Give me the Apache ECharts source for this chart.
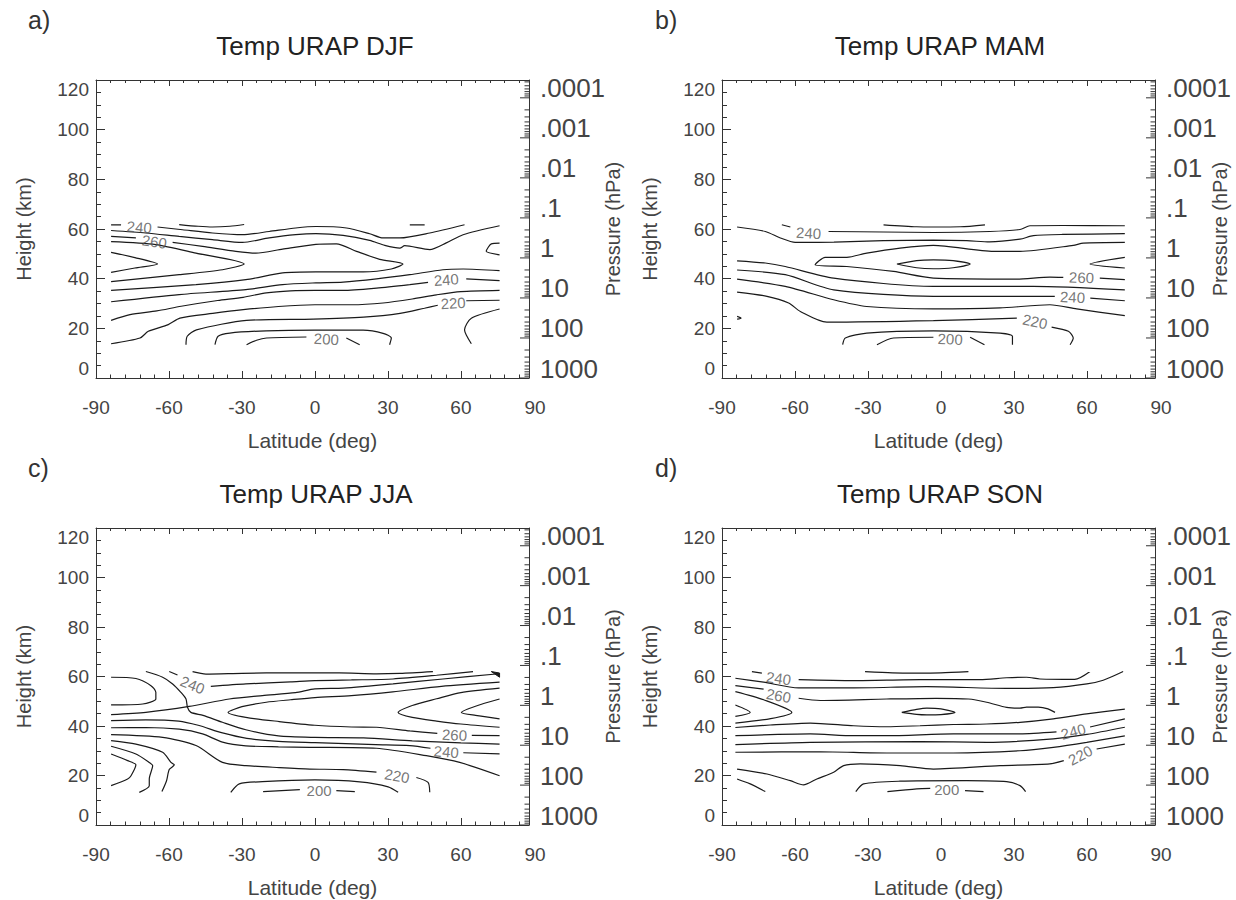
<!DOCTYPE html>
<html><head><meta charset="utf-8">
<script src="https://cdn.jsdelivr.net/npm/echarts@6/dist/echarts.min.js"></script>
<style>html,body{margin:0;padding:0;background:#fff}#chart{width:1236px;height:900px}</style>
</head><body><div id="chart"></div>
<script>
// ---------- axis definitions ----------
const LAT_MIN = -90, LAT_MAX = 88;
const HEIGHT_MIN = 0, HEIGHT_MAX = 120;
const SCALE_HEIGHT_KM = 7;
const P_SURFACE = 1000;
const P_TOP = P_SURFACE * Math.exp(-HEIGHT_MAX / SCALE_HEIGHT_KM);
const pressureTickValues = [1000, 100, 10, 1, 0.1, 0.01, 0.001, 0.0001];
const pressureTickLabels = ['1000', '100', '10', '1', '.1', '.01', '.001', '.0001'];
const panelTitles = ['Temp URAP DJF', 'Temp URAP MAM', 'Temp URAP JJA', 'Temp URAP SON'];
const panelLetters = ['a)', 'b)', 'c)', 'd)'];

// ---------- contour data: [latitude (deg), height (km)] ----------
const djfContours = [
  [[-83.8,61.7],[-79.7,61.7]],
  [[-64.7,60.8],[-54.4,59.7],[-42.1,58.4],[-29.8,57.7],[-18.8,59.0],[-7.9,60.4],[0.4,61.0],[13,60.4],[22.5,58.1],[28,56.4],[34.9,56.4],[47.2,58.4],[61.5,61.7]],
  [[-55.8,61.8],[-48,61.1],[-42.1,60.8],[-35,61.1],[-29.1,61.8]],
  [[39,61.7],[45.1,61.7]],
  [[-83.8,59.4],[-69.5,58.4],[-55.8,57.0],[-42.1,55.7],[-29.8,54.6],[-18.8,56.4],[-7.9,57.7],[0.4,58.1],[11.6,57.4],[22.5,55.4],[28.7,53.4],[34.9,52.3],[36.9,53.3],[47.2,51.7],[54,54.4],[60.9,57.7],[75.9,61.3]],
  [[-83.8,57.0],[-73.6,56.4]],
  [[-58.5,54.6],[-46.2,53.0],[-32.5,51.0],[-24.3,50.3],[-13.3,51.9],[0.4,53.8],[8.8,54.0],[17.1,51.0],[26.6,47.8],[36.2,45.9],[31.4,43.9],[19.8,42.7],[0.4,42.7],[-13.3,42.3],[-28.4,39.6],[-48.9,37.6],[-83.8,35.3]],
  [[-83.8,54.9],[-65.4,53.7],[-48.9,50.3],[-29.1,45.9],[-38,43.6],[-55.8,41.6],[-83.8,38.8]],
  [[-83.8,50.6],[-74,48.5],[-64.7,45.9],[-74,44.3],[-83.8,42.5]],
  [[75.9,54.3],[72.5,54.0],[70.4,51.0],[75.9,49.6]],
  [[-83.8,30.7],[-55.8,33.6],[-28.4,35.6],[-13.3,37.6],[0.4,38.3],[11.6,38.6],[25.3,39.9],[39,41.6],[52.6,43.6],[60.9,43.9],[75.9,43.2]],
  [[-83.8,23.2],[-76,25.5],[-65,27.0],[-55,28.9],[-40,31.2],[-29.5,32.5],[-20,34.3],[-10,35.1],[0,35.3],[11.6,35.3],[25.3,36.2],[39,37.6],[46.5,38.5]],
  [[62.2,39.9],[75.9,39.2]],
  [[-83.8,13.8],[-71.9,16.1],[-68.5,18.8],[-60.3,21.5],[-55.5,24.1],[-42,26],[-29.5,27.5],[-15,28.8],[0,29.5],[15,29.5],[28,30.2],[40,31.8],[50,33.5],[60,34.8],[75.9,35.3]],
  [[-53,13.4],[-52.5,16.8],[-48.7,19.4],[-28.1,23.2],[-0.7,23.7],[20,24.5],[35,26],[45,28.1],[50.5,29.3]],
  [[62.2,31.1],[75.9,31.3]],
  [[-41.1,13.4],[-39.8,16.8],[-35,18.1],[-20,19.0],[0,19.3],[19.8,19.3],[28,18.0],[31.4,16.1],[30.7,13.4]],
  [[-28.1,13.4],[-24,15.2],[-19.9,16.1],[-3.5,16.5]],
  [[12.9,16.1],[18.4,13.4]],
  [[75.9,27.8],[64.3,24.1],[61.5,19.4],[64.3,13.8]]
];
const djfLabels = [[-72.2,60.8,'240',-5],[-66,54.9,'260',-8],[54,39.6,'240',4],[56.8,30.2,'220',3],[4.7,15.7,'200',-3]];
const djfFilled = [];

const mamContours = [
  [[-83.8,60.8],[-72.2,59.0],[-66,56.4],[-59.9,54.6],[-44,54.7],[-23.6,55.3],[-3.1,55.5],[10.6,55.3],[20,54.8],[32.5,55.9],[38,57.3],[50,57.8],[75.6,58.1]],
  [[-65.4,61.7],[-61.9,60.8]],
  [[-46.2,59.0],[-23.6,58.8],[-3.1,58.6],[20,59.0],[32.5,59.8],[36.6,61.3],[50,61.4],[75.6,61.3]],
  [[-23.6,61.7],[-10,60.9],[-3.1,60.8],[8,60.9],[18.1,61.7]],
  [[75.6,54.6],[58.5,54.3],[54.4,53.4],[32.5,51.0],[21.6,51.0],[-3.1,53.4],[-16.8,52.3],[-30.5,50.3],[-38.7,48.6],[-47.6,48.6],[-51.7,45.6],[-38.7,44.9],[-19.5,42.9],[-3.1,40.2],[31.2,39.8],[44.8,40.6],[50.3,40.5]],
  [[65.3,40.2],[75.6,39.6]],
  [[-18.1,45.9],[-10,47.3],[-3.1,47.6],[5,47.3],[12,45.9],[5,44.4],[-3.1,44.0],[-10,44.4],[-18.1,45.9]],
  [[75.6,48.6],[61.3,45.9],[75.6,44.3]],
  [[-83.8,47.2],[-72.2,46.3],[-64,44.9],[-44.1,40.2],[-3.1,36.9],[38,36.9],[75.6,35.5]],
  [[-83.8,43.5],[-64,41.6],[-44.1,35.5],[-3.1,32.9],[46.8,32.9]],
  [[61.4,32.2],[75.6,31.1]],
  [[-83.8,39.8],[-64,36.9],[-44.1,31.5],[-30.5,28.8],[-3.1,27.8],[24.3,28.2],[44.8,29.5],[55.8,27.8],[75.6,25.1]],
  [[-83.8,34.6],[-71.5,32.9],[-62.6,30.2],[-57.8,26.8],[-46.9,22.5],[-3.1,23.1],[31.2,24.1]],
  [[45.5,20.5],[52.4,18.8],[54.4,16.1],[53.1,13.4]],
  [[-40.4,13.4],[-39.3,16.1],[-30.5,18.1],[-3.1,19.0],[24.3,18.1],[29.4,16.8],[29.4,13.4]],
  [[-26.3,13.4],[-19.5,16.1],[-3.1,16.4]],
  [[12,16.4],[17.9,13.4]],
  [[-83.8,24.8],[-82.2,24.1],[-83.8,23.7]]
];
const mamLabels = [[-54.4,58.4,'240',-3],[57.8,40.5,'260',-2],[54.1,32.6,'240',-3],[38.7,22.8,'220',-12],[3.8,15.7,'200',-2]];
const mamFilled = [];

const jjaContours = [
  [[-50.3,62],[-44.8,61.0],[-30,61.3],[-10,61.5],[10,61.5],[25.3,61.1],[35,61.3],[48.5,62]],
  [[-59.9,62],[-56.5,60.6]],
  [[-42.8,56.0],[-28.4,57.0],[-10,57.8],[0,58.3],[15,58.6],[32.1,59],[50,60.5],[65,62]],
  [[-83.8,59.7],[-73.6,59.2],[-67.4,56.3],[-65.4,53.6],[-65.4,50.9],[-70.8,48.9],[-83.8,48.5]],
  [[-69.5,62],[-62.6,59.7],[-58.5,57],[-55.1,53.6],[-53,50.9],[-52.4,47.6],[-51,45.5],[-46,44.3],[-38,41.5],[-28.4,38.5],[-15,36],[0,35.4],[20,35.2],[40,34],[60,33.2],[75.9,32.7]],
  [[-83.8,44.6],[-69.5,45.5],[-51.7,47.9],[-35.2,50.9],[-21.6,52.3],[-8,53.5],[0,55.0],[11.6,55.3],[32.1,57],[52.6,59],[74.5,61]],
  [[75.9,57.7],[52,56],[32,53.8],[15,52.3],[0,51.5],[-10,50.6],[-20,49.6],[-30,47.8],[-35.7,45.5],[-28.4,43.5],[-14.7,41.8],[0,40.3],[15,39.6],[25.3,39.5],[39,38],[50.3,37]],
  [[64.5,36.2],[75.9,36.1]],
  [[75.9,55.3],[60,53.5],[50,51],[40,48.3],[34.2,45.5],[40,43.5],[50,42],[60,40.8],[75.9,39.5]],
  [[75.9,50.9],[66,48],[60.2,45.5],[66,44.3],[75.9,42.9]],
  [[-83.8,42.2],[-69.5,42.5],[-56,42],[-48,40.3],[-38,37.2],[-28,35],[-15,33.8],[0,33.3],[25,32.5],[39,32.1],[47.5,31.0]],
  [[61,29.2],[75.9,28.7]],
  [[-83.8,39.3],[-69.5,39.4],[-55.8,38.7],[-46.2,36.8],[-38,33.5],[-28.4,32],[-15,31.6],[-2.1,31.4],[25.3,31.0],[45.8,28],[59.5,25.3],[75.9,19.9]],
  [[-83.8,36.5],[-62.6,35.4],[-48.9,32.1],[-38,25.3],[-28.4,24.0],[-14.7,23.2],[-2.1,22.6],[11.6,22.4],[25.3,21.4]],
  [[41.7,19.2],[46.5,17.2],[47.2,13.2]],
  [[-83.8,34.1],[-73.6,32.7],[-62.6,29.4],[-59.2,25.3],[-57.8,24.3],[-59.9,22.4],[-61,17.9],[-62.9,13.5]],
  [[-83.8,31.8],[-73.6,28.7],[-68.1,25.3],[-66.7,24],[-68.1,18.6],[-68.1,15.9],[-72.2,13.2]],
  [[-83.8,28.7],[-77,26],[-73.6,24.3],[-75.6,19.9],[-77,18.6],[-83.8,15.9]],
  [[-34.6,13.2],[-31.1,16.6],[-21.6,17.5],[0,18.2],[18.4,17.4],[30.1,15.4],[34.2,13.2]],
  [[-21.3,13.5],[-6.2,14.3]],
  [[8.8,13.9],[16.4,13.5]]
];
const jjaLabels = [[-50.3,56.6,'240',-22],[57.4,36.4,'260',-3],[54,29.6,'240',-5],[33.8,19.9,'220',-10],[1.7,13.9,'200',0]];
const jjaFilled = [[[72.5,62.0],[75.9,61.4],[75.9,59.7]]];

const sonContours = [
  [[-77.7,62],[-73.6,61.4]],
  [[-58.5,58.7],[-35.9,58.3],[-8.6,58.7],[16.1,58.7],[27,59.5],[35.2,59.7],[40.7,59.0],[55,58.8],[61.3,62]],
  [[-84.5,59.3],[-72.9,57.7],[-58.5,55.4],[-35.9,55.4],[-5.8,55.9],[27,55.2],[46.2,55.5],[60,57],[66.7,58.5],[74.9,62]],
  [[-31.2,62],[-20,61.5],[-10,61.4],[0,61.5],[11.3,62]],
  [[-84.5,56.3],[-72.9,54.9]],
  [[-58.5,51.2],[-49.6,50.3],[-22.3,50.9],[-2,51.2],[11.3,50.9],[18.8,49.6],[27,47.5],[32.5,47.2],[35.2,47.6],[40,47.6],[44,46.9],[46.9,45.5]],
  [[-84.5,53.9],[-72.9,50.6],[-61.3,45.5],[-70,43],[-84.5,41.2]],
  [[-84.5,48.5],[-78.4,45.5],[-84.5,43.9]],
  [[-16.1,45.5],[-10,46.7],[-5.8,47.2],[0,46.9],[5.8,45.5],[0,44.6],[-5.8,44.5],[-10,44.7],[-16.1,45.5]],
  [[-84.5,39.4],[-70.2,40.4],[-53.7,41.2],[-35.9,40.1],[-22.3,39.7],[-8.6,40.1],[5.1,40.6],[18.8,40.8],[32.5,41.5],[46.2,42.9],[59.9,44.9],[75.6,46.8]],
  [[-84.5,36.1],[-53.7,36.8],[-35.9,36.1],[-22.3,36.1],[5.1,36.8],[32.5,36.8],[47.5,37.6]],
  [[61.3,39.6],[75.6,42.9]],
  [[-84.5,32.5],[-53.7,33.4],[-8.6,33.7],[18.8,33.4],[46.2,34.8],[60,36.6],[75.6,39.5]],
  [[-84.5,29.4],[-49.6,29.6],[-22.3,29.1],[5.1,29.1],[32.5,30.0],[46.2,31.4],[59.9,33.4],[75.6,36.0]],
  [[-83.8,22.6],[-71.5,20.6],[-61.9,17.9],[-56.5,16.2],[-51,18.6],[-44.1,21.3],[-40,24.0],[-33.2,24.7],[-16.8,24.0],[-3.1,22.6],[24.3,24.0],[44.8,24.7],[50.5,26]],
  [[64,30.7],[75.6,32.7]],
  [[-83.8,18.6],[-78.4,16.6],[-72.2,13.5]],
  [[-35,13.5],[-31.8,16.6],[-16.8,17.7],[10.6,17.9],[27,17.5],[32.5,15.9],[34.8,13.5]],
  [[-22,13.5],[-9.9,14.6],[-4.4,14.8]],
  [[9.9,13.9],[17.5,13.5]]
];
const sonLabels = [[-66.7,59.3,'240',-8],[-66.7,52.3,'260',-10],[54.4,37.8,'240',15],[57.3,28.2,'220',28],[2.4,14.2,'200',0]];
const sonFilled = [];

// ---------- layout / style ----------
const FONT = "'Liberation Sans', Arial, Helvetica, sans-serif";
const AXIS_COLOR = '#333';
const TEXT_COLOR = '#444';
const panels = [
  {left: 96,  top: 80,  h: 298, titleX: 315, letterX: 28,  titleTop: 33,  letterTop: 7,   pGap: 74, contours: djfContours, labels: djfLabels, filled: djfFilled},
  {left: 722, top: 80,  h: 298, titleX: 940, letterX: 655, titleTop: 33,  letterTop: 7,   pGap: 55, contours: mamContours, labels: mamLabels, filled: mamFilled},
  {left: 96,  top: 528, h: 297, titleX: 316, letterX: 28,  titleTop: 481, letterTop: 455, pGap: 74, contours: jjaContours, labels: jjaLabels, filled: jjaFilled},
  {left: 722, top: 528, h: 297, titleX: 940, letterX: 655, titleTop: 481, letterTop: 455, pGap: 55, contours: sonContours, labels: sonLabels, filled: sonFilled}
];
const GRID_W = 433;

// right axis tick positions (pressure -> pressure height)
const pressureTicks = [];
for (let n = -5; n <= 3; n++) {
  for (let m = 1; m <= 9; m++) {
    const p = m * Math.pow(10, n);
    if (p >= P_TOP * 0.999999 && p <= P_SURFACE * 1.000001) {
      pressureTicks.push([LAT_MAX, SCALE_HEIGHT_KM * Math.log(P_SURFACE / p), m === 1 ? 9 : 4.5]);
    }
  }
}
function pressureLabel(v) {
  for (let i = 0; i < pressureTickValues.length; i++) {
    if (Math.abs(Math.log10(v) - Math.log10(pressureTickValues[i])) < 1e-6) return '{p|' + pressureTickLabels[i] + '}';
  }
  return '';
}

const lineStyleAxis = {color: AXIS_COLOR, width: 1};
const option = {animation: false, backgroundColor: '#fff', title: [], grid: [], xAxis: [], yAxis: [], series: []};

panels.forEach((p, i) => {
  option.title.push({text: panelLetters[i], left: p.letterX, top: p.letterTop, padding: 0,
    textStyle: {fontSize: 25, fontWeight: 'normal', color: '#333', fontFamily: FONT}});
  option.title.push({text: panelTitles[i], left: p.titleX, top: p.titleTop, textAlign: 'center', padding: 0,
    textStyle: {fontSize: 26, fontWeight: 'normal', color: '#222', fontFamily: FONT}});
  option.grid.push({left: p.left, top: p.top, width: GRID_W, height: p.h, containLabel: false, outerBoundsMode: 'none'});

  option.xAxis.push({
    type: 'value', gridIndex: i, min: LAT_MIN, max: LAT_MAX, interval: 30, position: 'bottom',
    axisLine: {show: true, onZero: false, lineStyle: lineStyleAxis},
    axisTick: {show: true, inside: true, length: 7, lineStyle: lineStyleAxis},
    minorTick: {show: true, splitNumber: 5, length: 3.5, lineStyle: lineStyleAxis},
    splitLine: {show: false}, minorSplitLine: {show: false},
    axisLabel: {show: true, margin: 20, fontSize: 19, color: TEXT_COLOR, fontFamily: FONT,
      showMinLabel: true, showMaxLabel: true,
      formatter: v => Math.abs(v - LAT_MAX) < 1e-6 ? '{e|90}' : String(v),
      rich: {e: {fontSize: 19, color: TEXT_COLOR, fontFamily: FONT, padding: [0, 0, 0, 12]}}},
    name: 'Latitude (deg)', nameLocation: 'middle', nameGap: 52, nameMoveOverlap: false,
    nameTextStyle: {fontSize: 21, color: TEXT_COLOR, fontFamily: FONT}
  });
  option.xAxis.push({
    type: 'value', gridIndex: i, min: LAT_MIN, max: LAT_MAX, interval: 30, position: 'top',
    axisLine: {show: true, onZero: false, lineStyle: lineStyleAxis},
    axisTick: {show: true, inside: true, length: 6, lineStyle: lineStyleAxis},
    minorTick: {show: true, splitNumber: 5, length: 3, lineStyle: lineStyleAxis},
    splitLine: {show: false}, axisLabel: {show: false}
  });
  option.yAxis.push({
    type: 'value', gridIndex: i, min: HEIGHT_MIN, max: HEIGHT_MAX, interval: 20, position: 'left',
    axisLine: {show: true, onZero: false, lineStyle: lineStyleAxis},
    axisTick: {show: true, inside: true, length: 9, lineStyle: lineStyleAxis},
    minorTick: {show: true, splitNumber: 4, length: 5, lineStyle: lineStyleAxis},
    splitLine: {show: false}, minorSplitLine: {show: false},
    axisLabel: {show: true, margin: 7, fontSize: 19, color: TEXT_COLOR, fontFamily: FONT,
      showMinLabel: true, showMaxLabel: true,
      formatter: v => v === HEIGHT_MIN ? '{lo|' + v + '}' : (v === HEIGHT_MAX ? '{hi|' + v + '}' : String(v)),
      rich: {lo: {fontSize: 19, color: TEXT_COLOR, fontFamily: FONT, padding: [0, 0, 19, 0]},
             hi: {fontSize: 19, color: TEXT_COLOR, fontFamily: FONT, padding: [19, 0, 0, 0]}}},
    name: 'Height (km)', nameLocation: 'middle', nameGap: 62, nameRotate: 90, nameMoveOverlap: false,
    nameTextStyle: {fontSize: 20, color: TEXT_COLOR, fontFamily: FONT}
  });
  option.yAxis.push({
    type: 'log', logBase: 10, gridIndex: i, min: P_TOP, max: P_SURFACE, inverse: true, position: 'right',
    axisLine: {show: true, onZero: false, lineStyle: lineStyleAxis},
    axisTick: {show: false}, minorTick: {show: false},
    splitLine: {show: false}, minorSplitLine: {show: false},
    axisLabel: {show: true, margin: 11, fontSize: 26, color: TEXT_COLOR, fontFamily: FONT,
      showMinLabel: true, showMaxLabel: true, formatter: pressureLabel,
      rich: {p: {fontSize: 26, color: TEXT_COLOR, fontFamily: FONT, padding: [0, 0, 19, 0]}}},
    name: 'Pressure (hPa)', nameLocation: 'middle', nameGap: p.pGap, nameRotate: 90, nameMoveOverlap: false,
    nameTextStyle: {fontSize: 20, color: TEXT_COLOR, fontFamily: FONT}
  });

  // right-axis (pressure) major + minor ticks, placed through the height axis
  option.series.push({
    type: 'custom', xAxisIndex: 2 * i, yAxisIndex: 2 * i, silent: true, clip: false,
    data: pressureTicks, encode: {x: 0, y: 1},
    renderItem: (params, api) => {
      const pt = api.coord([api.value(0), api.value(1)]);
      const len = api.value(2);
      return {type: 'line', shape: {x1: pt[0], y1: pt[1], x2: pt[0] - len, y2: pt[1]},
        style: {stroke: AXIS_COLOR, lineWidth: 1}};
    }
  });

  p.contours.forEach(poly => {
    option.series.push({
      type: 'line', xAxisIndex: 2 * i, yAxisIndex: 2 * i, data: poly,
      symbol: 'none', showSymbol: false, smooth: 0.25, silent: true, z: 3,
      lineStyle: {color: '#1a1a1a', width: 1.2}
    });
  });

  // small filled contour patches
  p.filled.forEach(poly => {
    option.series.push({
      type: 'custom', xAxisIndex: 2 * i, yAxisIndex: 2 * i, silent: true, z: 3,
      data: [0],
      renderItem: (params, api) => ({
        type: 'polygon', shape: {points: poly.map(pt => api.coord(pt))},
        style: {fill: '#1a1a1a', stroke: '#1a1a1a', lineWidth: 1}
      })
    });
  });

  option.series.push({
    type: 'scatter', xAxisIndex: 2 * i, yAxisIndex: 2 * i, silent: true, z: 4,
    symbolSize: 1, itemStyle: {color: 'rgba(0,0,0,0)'},
    data: p.labels.map(l => ({name: l[2], value: [l[0], l[1]], label: {rotate: l[3]}})),
    label: {show: true, position: 'inside', formatter: '{b}', fontSize: 15, color: '#555', fontFamily: FONT}
  });
});

const chart = echarts.init(document.getElementById('chart'), null, {renderer: 'svg'});
chart.setOption(option);
</script>
</body></html>
